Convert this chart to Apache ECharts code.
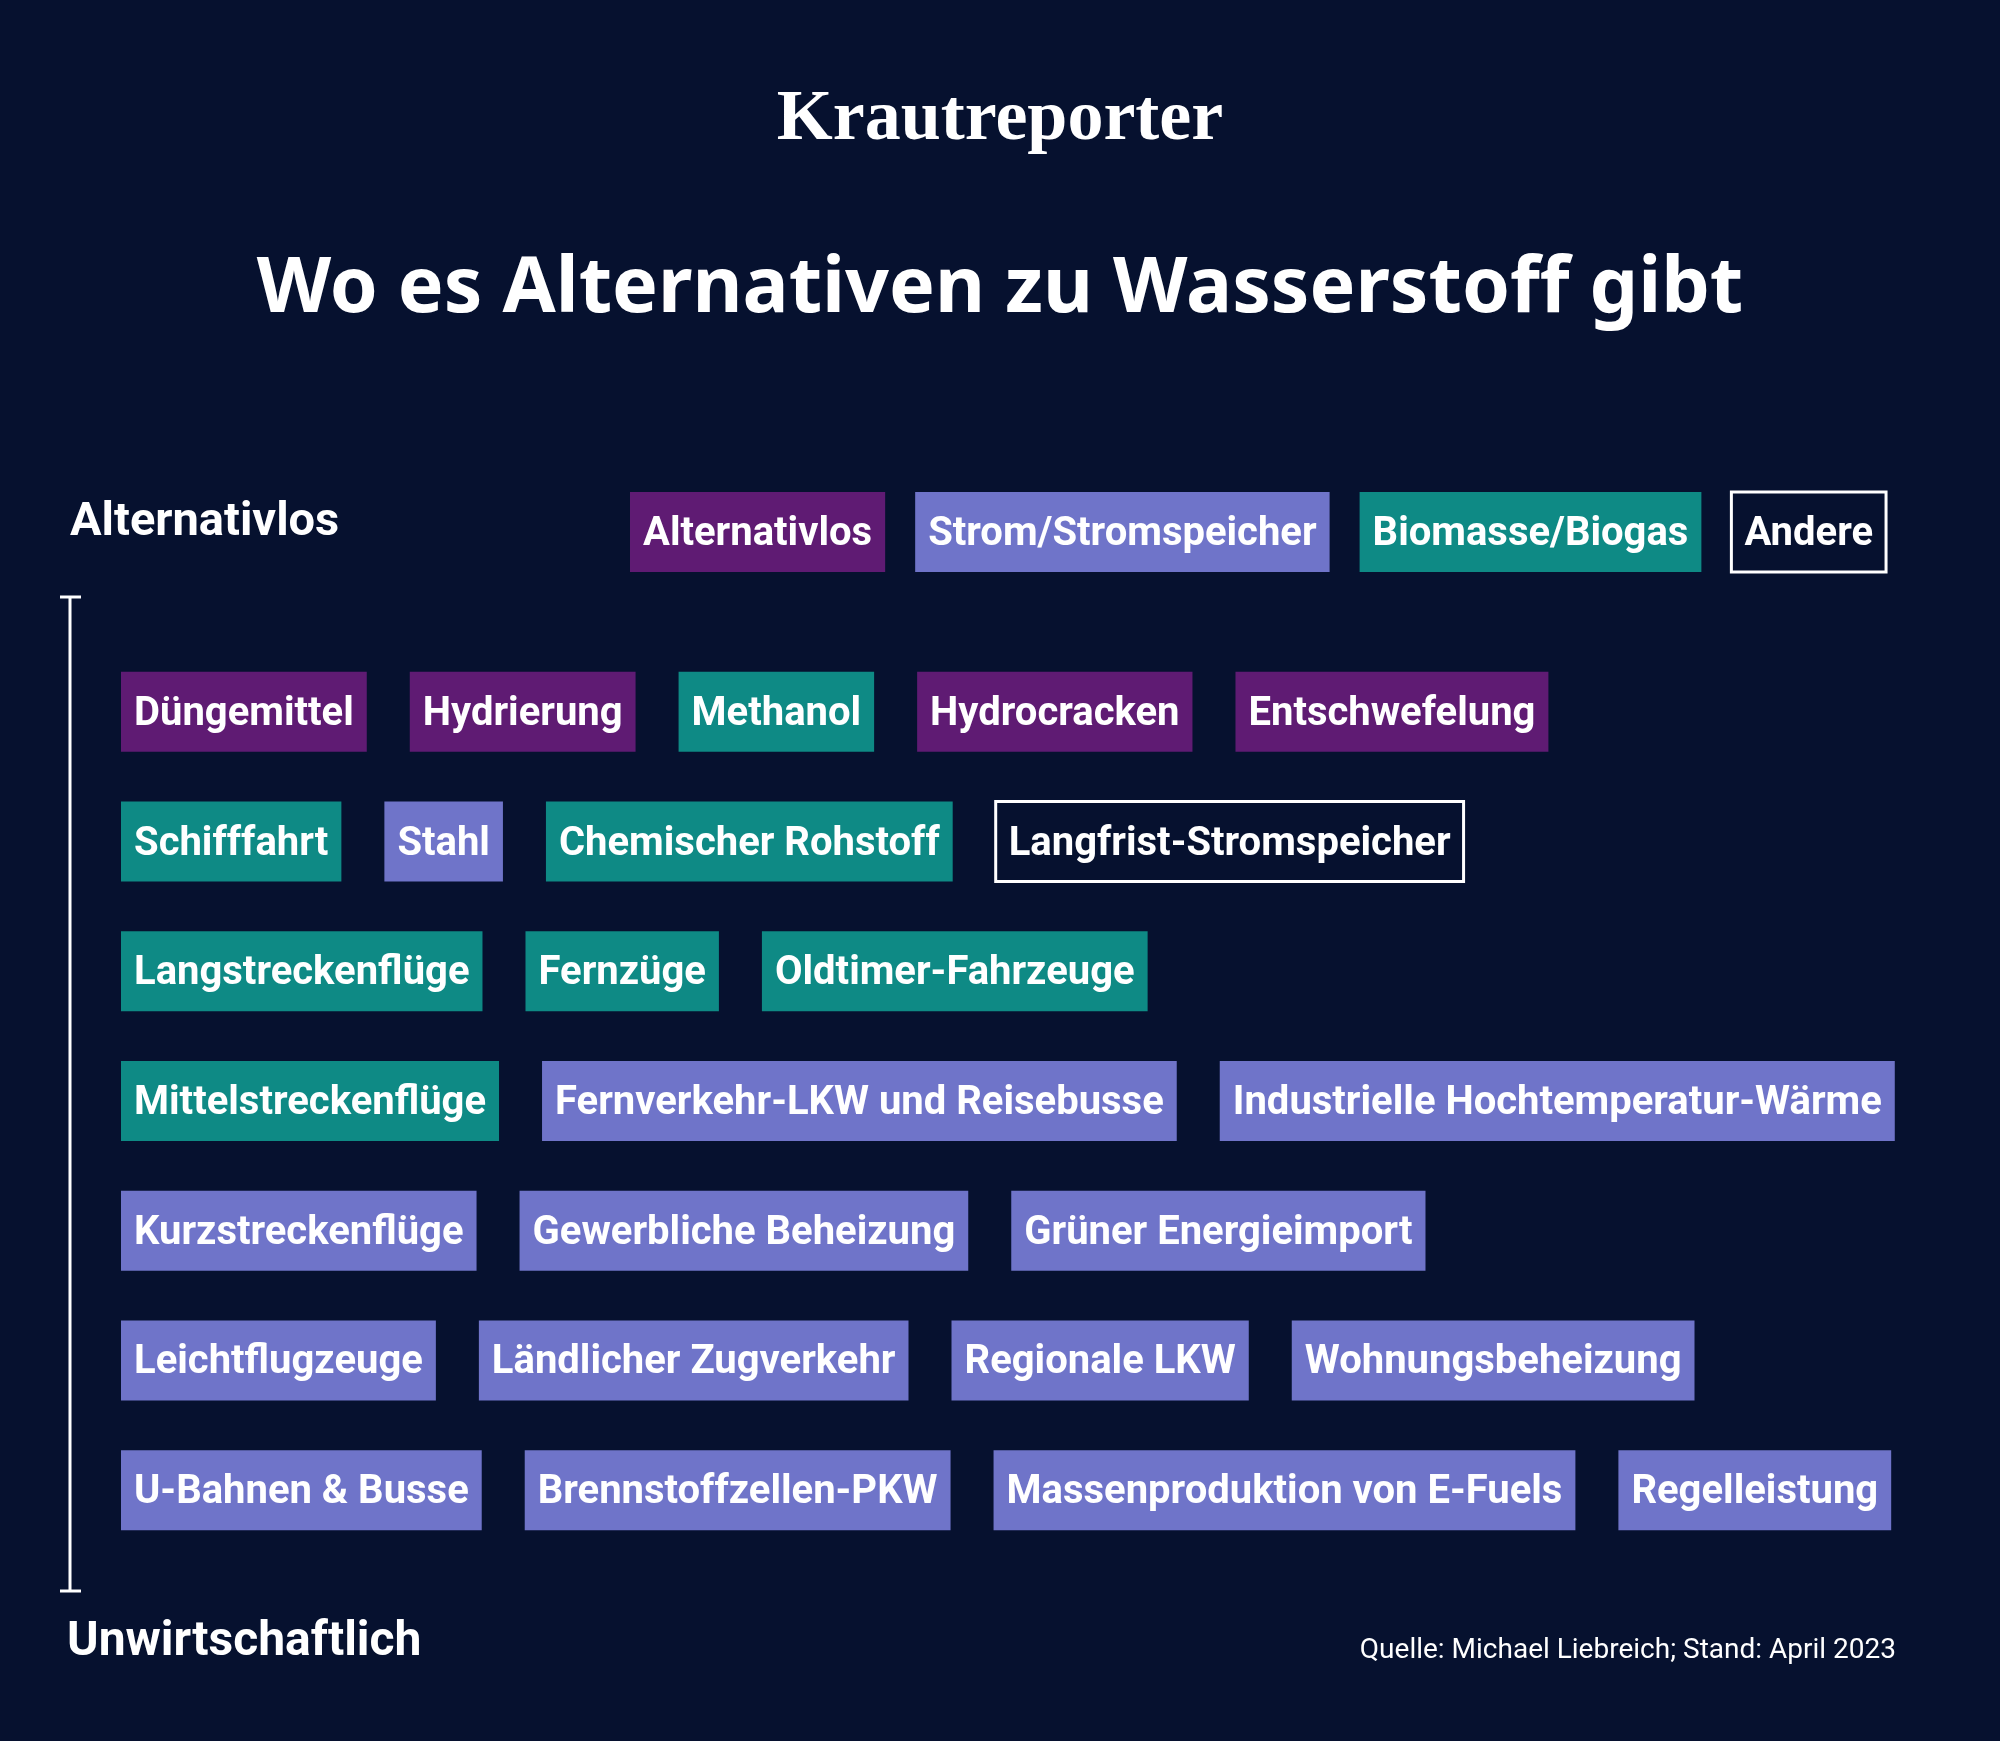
<!DOCTYPE html>
<html><head><meta charset="utf-8">
<script src="https://cdn.jsdelivr.net/npm/echarts@6/dist/echarts.min.js"></script>
<style>html,body{margin:0;padding:0;background:#06112f}#c{width:2000px;height:1741px}</style>
</head><body><div id="c"></div>
<script>
const legendNames = ['Alternativlos','Strom/Stromspeicher','Biomasse/Biogas','Andere'];
const legendCats = ['alt','strom','bio','andere'];
const rows = [
  [['Düngemittel','alt'],['Hydrierung','alt'],['Methanol','bio'],['Hydrocracken','alt'],['Entschwefelung','alt']],
  [['Schifffahrt','bio'],['Stahl','strom'],['Chemischer Rohstoff','bio'],['Langfrist-Stromspeicher','andere']],
  [['Langstreckenflüge','bio'],['Fernzüge','bio'],['Oldtimer-Fahrzeuge','bio']],
  [['Mittelstreckenflüge','bio'],['Fernverkehr-LKW und Reisebusse','strom'],['Industrielle Hochtemperatur-Wärme','strom']],
  [['Kurzstreckenflüge','strom'],['Gewerbliche Beheizung','strom'],['Grüner Energieimport','strom']],
  [['Leichtflugzeuge','strom'],['Ländlicher Zugverkehr','strom'],['Regionale LKW','strom'],['Wohnungsbeheizung','strom']],
  [['U-Bahnen & Busse','strom'],['Brennstoffzellen-PKW','strom'],['Massenproduktion von E-Fuels','strom'],['Regelleistung','strom']]
];
const rowCats = ['r1','r2','r3','r4','r5','r6','r7'];
const colors = {alt:'#5f1b73', strom:'#6f74c9', bio:'#0e8a85', andere:'transparent'};
const FONT = 'bold 40px Roboto';
const cv = document.createElement('canvas').getContext('2d'); cv.font = FONT;
const PAD = 13, GAP = 43;
function layout(items, startX, gap){
  let x = startX; const out=[];
  items.forEach(it=>{ const w = cv.measureText(it[0]).width + 2*PAD; out.push({x, w, name:it[0], cat:it[1]}); x += w + gap; });
  return out;
}
const boxData = [];
rows.forEach((r,i)=> layout(r,121,GAP).forEach(b=> boxData.push({value:[b.x, rowCats[i], b.w], name:b.name, cat:b.cat})));
const legData = layout(legendNames.map((n,i)=>[n,legendCats[i]]),630,30).map(b=>({value:[b.x,'leg',b.w],name:b.name,cat:b.cat}));
function render(params, api){
  const d = (params.seriesIndex===0?boxData:legData)[params.dataIndexInside];
  const p = api.coord([api.value(0), api.value(1)]);
  const w = api.size([api.value(2),0])[0];
  const h = 80;
  return {type:'group', children:[
    {type:'rect', shape:{x:p[0], y:p[1]-h/2, width:w, height:h},
     style:{fill:colors[d.cat], stroke:d.cat==='andere'?'#fff':null, lineWidth:3}},
    {type:'text', style:{x:p[0]+PAD, y:p[1]+3, text:d.name, font:FONT, fill:'#fff', verticalAlign:'middle', align:'left'}}
  ]};
}
const chart = echarts.init(document.getElementById('c'));
chart.setOption({
  backgroundColor:'#06112f', animation:false,
  grid:[{left:0,right:0,top:647,height:908},{left:0,right:0,top:500,height:64}],
  xAxis:[{type:'value',min:0,max:2000,show:false,gridIndex:0},{type:'value',min:0,max:2000,show:false,gridIndex:1}],
  yAxis:[{type:'category',data:rowCats,inverse:true,show:false,gridIndex:0},{type:'category',data:['leg'],show:false,gridIndex:1}],
  graphic:[
    {type:'text',left:'center',top:84,style:{text:'Krautreporter',font:'bold 72px "Liberation Serif"',fill:'#fff'}},
    {type:'text',left:'center',top:252,style:{text:'Wo es Alternativen zu Wasserstoff gibt',font:'bold 77px "Noto Sans"',fill:'#fff'}},
    {type:'text',left:70,top:500,style:{text:'Alternativlos',font:'bold 47px Roboto',fill:'#fff'}},
    {type:'text',left:67,top:1619,style:{text:'Unwirtschaftlich',font:'bold 48px Roboto',fill:'#fff'}},
    {type:'text',right:104,top:1637,style:{text:'Quelle: Michael Liebreich; Stand: April 2023',font:'28px Roboto',fill:'#fff'}},
    {type:'line',shape:{x1:70,y1:597,x2:70,y2:1591},style:{stroke:'#fff',lineWidth:3}},
    {type:'line',shape:{x1:60,y1:597,x2:81,y2:597},style:{stroke:'#fff',lineWidth:3}},
    {type:'line',shape:{x1:60,y1:1591,x2:81,y2:1591},style:{stroke:'#fff',lineWidth:3}}
  ],
  series:[
    {type:'custom',xAxisIndex:0,yAxisIndex:0,data:boxData,renderItem:render},
    {type:'custom',xAxisIndex:1,yAxisIndex:1,data:legData,renderItem:render}
  ]
});
</script></body></html>
